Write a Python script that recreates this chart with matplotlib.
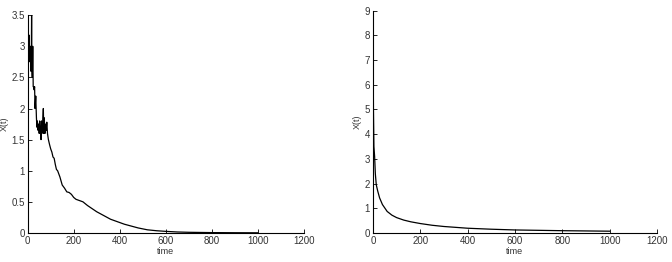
import matplotlib
matplotlib.use("Agg")
import matplotlib.pyplot as plt

plt.rcParams['font.family'] = ['Liberation Sans', 'DejaVu Sans']

# left panel: noisy decay
t_left = [0, 2, 4, 6, 8, 10, 12, 14, 16, 17, 18, 20, 22, 24, 26, 28, 30, 32,
          35, 38, 40, 42, 45, 48, 50, 52, 55, 58, 60, 62, 65, 68, 70, 72, 75,
          78, 80, 83, 86, 90, 95, 100, 105, 110, 115, 120, 125, 130, 140, 150,
          160, 170, 180, 190, 200, 210, 225, 240, 260, 280, 300, 330, 360,
          390, 420, 450, 480, 520, 560, 600, 650, 700, 800, 900, 1000]
x_left = [2.95, 3.1, 2.9, 3.18, 2.85, 2.75, 3.0, 2.6, 2.9, 3.5, 2.7, 2.5, 3.0,
          2.35, 2.35, 2.3, 2.35, 2.0, 2.2, 1.85, 1.7, 1.8, 1.65, 1.75, 1.6,
          1.8, 1.65, 1.5, 1.8, 1.6, 1.75, 2.0, 1.6, 1.85, 1.6, 1.75, 1.65,
          1.78, 1.6, 1.5, 1.42, 1.35, 1.3, 1.22, 1.2, 1.1, 1.02, 1.0, 0.9,
          0.77, 0.72, 0.66, 0.65, 0.62, 0.57, 0.54, 0.52, 0.5, 0.44, 0.39,
          0.34, 0.28, 0.22, 0.18, 0.14, 0.11, 0.08, 0.05, 0.035, 0.025,
          0.015, 0.01, 0.005, 0.003, 0.002]

# right panel: smooth decay
t_right = [0, 2, 4, 7, 10, 14, 20, 28, 40, 60, 80, 100, 130, 160, 200, 250,
           300, 400, 500, 600, 800, 1000]
x_right = [9.0, 5.0, 3.5, 3.1, 2.4, 1.95, 1.7, 1.42, 1.15, 0.87, 0.72, 0.62,
           0.52, 0.45, 0.38, 0.31, 0.26, 0.19, 0.15, 0.12, 0.09, 0.07]

x_ticks       = [0, 200, 400, 600, 800, 1000, 1200]
y_ticks_left  = [0, 0.5, 1, 1.5, 2, 2.5, 3, 3.5]
y_ticks_right = list(range(0, 10))

fig = plt.figure(figsize=(6.72, 2.62), dpi=100)
ax1 = fig.add_axes([0.0412, 0.111, 0.411, 0.831])
ax2 = fig.add_axes([0.555, 0.111, 0.4226, 0.848])

panels = [
    (ax1, t_left, x_left, y_ticks_left, (0, 3.5)),
    (ax2, t_right, x_right, y_ticks_right, (0, 9)),
]

for ax, t, x, yt, ylim in panels:
    ax.plot(t, x, color='black', linewidth=0.9)
    ax.set_xlim(0, 1200)
    ax.set_ylim(*ylim)
    ax.set_xticks(x_ticks)
    ax.set_yticks(yt)
    ax.set_yticklabels([f"{v:g}" for v in yt])
    ax.spines['top'].set_visible(False)
    ax.spines['right'].set_visible(False)
    ax.spines['left'].set_linewidth(0.8)
    ax.spines['bottom'].set_linewidth(0.8)
    ax.tick_params(direction='in', length=3, width=0.6, labelsize=7,
                   labelcolor='#333333', pad=2)
    ax.set_xlabel('time', fontsize=6.5, color='#333333', labelpad=1)
    ax.set_ylabel('X(t)', fontsize=6.5, color='#333333', labelpad=2)

plt.savefig('out.png', dpi=100)
